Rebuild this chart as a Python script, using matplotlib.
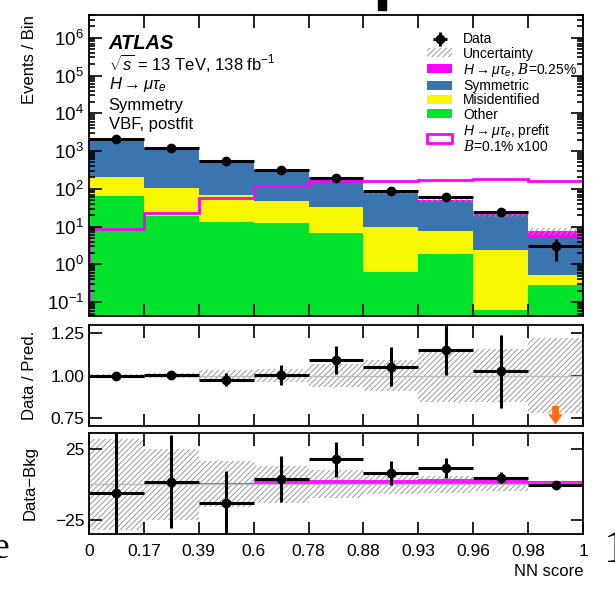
import numpy as np
import matplotlib
matplotlib.use('Agg')
import matplotlib.pyplot as plt
from matplotlib.patches import Patch, Rectangle
from matplotlib.ticker import LogLocator, NullFormatter, FixedLocator

plt.rcParams['font.family'] = ['Liberation Sans', 'DejaVu Sans']
plt.rcParams['mathtext.fontset'] = 'custom'
plt.rcParams['mathtext.rm'] = 'Liberation Sans'
plt.rcParams['mathtext.it'] = 'Liberation Sans:italic'
plt.rcParams['mathtext.bf'] = 'Liberation Sans:bold'
plt.rcParams['mathtext.cal'] = 'DejaVu Serif:italic'
plt.rcParams['hatch.linewidth'] = 0.7

# bin edge labels (NN score), bins drawn with equal width
edge_labels = ['0', '0.17', '0.39', '0.6', '0.78', '0.88', '0.93', '0.96', '0.98', '1']

# stacked backgrounds + signal (events / bin)
other = [63, 19, 13.5, 12.5, 6.6, 0.64, 1.9, 0.062, 0.28]
misid = [141, 88, 54, 36, 26, 9.1, 5.7, 2.3, 0.24]
symm = [1900, 1120, 505, 256, 142, 69, 41, 16.6, 4.8]
signal = [0.3, 0.5, 0.8, 2.3, 3.0, 3.0, 3.5, 3.0, 2.4]
prefit = [8.5, 23, 57, 118, 159, 159, 174, 185, 163]

data = [2100, 1230, 560, 310, 194, 86, 60, 25, 3]
data_err = [46, 35, 24, 18, 14, 9.3, 7.7, 5, 1.8]

# relative uncertainty of the prediction
unc_rel = [0.01, 0.015, 0.035, 0.04, 0.07, 0.09, 0.16, 0.16, 0.22]

# Data / Pred.
ratio = [1.00, 1.004, 0.974, 1.004, 1.093, 1.053, 1.152, 1.024, 0.39]
ratio_err = [0.008, 0.012, 0.038, 0.06, 0.084, 0.117, 0.15, 0.215, 0.2]

# Data - Bkg
resid = [-6.3, 1.9, -12.9, 3.5, 17.6, 7.7, 11.3, 4.7, -0.5]
resid_err = [42, 33, 22, 16, 12.3, 8.5, 7, 4.1, 1.5]
resid_unc = [32, 25, 16, 13, 10, 7, 6, 4.5, 2]

c_other = '#00e22b'
c_misid = '#f7f700'
c_symm = '#3b75af'
c_sig = '#ff00ff'
c_hatch = '#9a9a9a'

nb = len(other)
edges = np.arange(nb + 1)
cent = edges[:-1] + 0.5

other = np.array(other)
misid = np.array(misid)
symm = np.array(symm)
signal = np.array(signal)
total = other + misid + symm + signal
unc_rel = np.array(unc_rel)

W, H = 615, 589
fig = plt.figure(figsize=(W / 100, H / 100), dpi=100)


def box(l, t, r, b):
    return [l / W, 1 - b / H, (r - l) / W, (b - t) / H]


ax = fig.add_axes(box(89, 15, 583, 316))
axr = fig.add_axes(box(89, 325, 583, 426))
axd = fig.add_axes(box(89, 433, 583, 534))

# ---- top panel
ax.set_yscale('log')
base = np.full(nb, 1e-4)
for vals, col in [(other, c_other), (misid, c_misid), (symm, c_symm), (signal, c_sig)]:
    ax.stairs(base + vals, edges, baseline=base, fill=True, color=col, lw=0)
    base = base + vals
ax.stairs(total * (1 + unc_rel), edges, baseline=total * (1 - unc_rel), fill=True,
          facecolor='none', edgecolor=c_hatch, hatch='//////', lw=0)
ax.stairs(prefit, edges, color=c_sig, lw=2)
eb = ax.errorbar(cent, data, yerr=data_err, xerr=0.5, fmt='o', color='k', ms=6,
                 lw=2.2, capsize=0)
ax.set_xlim(0, nb)
ax.set_ylim(0.043, 4e6)
ax.yaxis.set_major_locator(LogLocator(base=10, numticks=20))
ax.yaxis.set_minor_locator(LogLocator(base=10, subs=np.arange(2, 10), numticks=20))
ax.yaxis.set_minor_formatter(NullFormatter())
ax.set_ylabel('Events / Bin', loc='top', fontsize=12)

ax.text(0.04, 0.905, 'ATLAS', transform=ax.transAxes, fontsize=14.5,
        fontweight='bold', style='italic', va='center')
ax.text(0.04, 0.84, r'$\sqrt{s}$ = 13 TeV, 138 fb$^{-1}$', transform=ax.transAxes,
        fontsize=12, va='center')
ax.text(0.04, 0.768, r'$H \rightarrow \mu\tau_e$', transform=ax.transAxes,
        fontsize=12, va='center')
ax.text(0.04, 0.70, 'Symmetry', transform=ax.transAxes, fontsize=12, va='center')
ax.text(0.04, 0.635, 'VBF, postfit', transform=ax.transAxes, fontsize=12, va='center')

handles = [
    eb,
    Patch(facecolor='white', edgecolor=c_hatch, hatch='//////', lw=0),
    Patch(facecolor=c_sig),
    Patch(facecolor=c_symm),
    Patch(facecolor=c_misid),
    Patch(facecolor=c_other),
    Patch(facecolor='white', edgecolor=c_sig, lw=2),
]
labels = ['Data', 'Uncertainty', r'$H \rightarrow \mu\tau_e$, $\mathcal{B}$=0.25%',
          'Symmetric', 'Misidentified', 'Other',
          '$H \\rightarrow \\mu\\tau_e$, prefit\n$\\mathcal{B}$=0.1% x100']
leg = ax.legend(handles, labels, loc='upper left', bbox_to_anchor=(0.665, 0.975),
                frameon=False, fontsize=10, handlelength=1.8, handleheight=0.6,
                labelspacing=0.02, handletextpad=0.8, borderpad=0.2)
for t in leg.get_texts():
    t.set_linespacing(0.95)

# ---- ratio panel
axr.stairs(1 + unc_rel, edges, baseline=1 - unc_rel, fill=True,
           facecolor='none', edgecolor=c_hatch, hatch='//////', lw=0)
axr.axhline(1, color='#bbbbbb', lw=1)
ratio = np.array(ratio)
ratio_err = np.array(ratio_err)
rlo, rhi = 0.7, 1.3
inr = (ratio > rlo) & (ratio < rhi)
axr.errorbar(cent[inr], ratio[inr], yerr=ratio_err[inr], xerr=0.5, fmt='o',
             color='k', ms=6, lw=2.2, capsize=0)
for xc in cent[~inr]:
    axr.annotate('', xy=(xc, 0.71), xytext=(xc, 0.82),
                 arrowprops=dict(arrowstyle='simple,head_length=0.45,head_width=0.65,tail_width=0.3',
                                 color='#ff6a13', lw=0, mutation_scale=16,
                                 shrinkA=0, shrinkB=0))
axr.set_xlim(0, nb)
axr.set_ylim(rlo, rhi)
axr.set_yticks([0.75, 1.0, 1.25])
axr.set_yticklabels(['0.75', '1.00', '1.25'])
axr.set_ylabel('Data / Pred.', fontsize=12)

# ---- data - bkg panel
resid_unc = np.array(resid_unc)
axd.stairs(resid_unc, edges, baseline=-resid_unc, fill=True,
           facecolor='none', edgecolor=c_hatch, hatch='//////', lw=0)
axd.axhline(0, color='#bbbbbb', lw=1)
axd.stairs(signal, edges, baseline=0, fill=True, color=c_sig, lw=0, alpha=0.9)
axd.errorbar(cent, resid, yerr=resid_err, xerr=0.5, fmt='o', color='k', ms=6,
             lw=2.2, capsize=0)
axd.set_xlim(0, nb)
axd.set_ylim(-35, 36)
axd.set_yticks([-25, 25])
axd.set_yticklabels(['\u221225', '25'])
axd.set_ylabel('Data\u2212Bkg', fontsize=12)
axd.set_xlabel('NN score', loc='right', fontsize=12)

for a in (ax, axr, axd):
    a.xaxis.set_major_locator(FixedLocator(edges))
    a.tick_params(which='both', direction='in', top=True, right=True,
                  labelsize=12.5, width=1.2)
    a.tick_params(which='major', length=9)
    a.tick_params(which='minor', length=4.5)
    for s in a.spines.values():
        s.set_linewidth(1.3)
ax.tick_params(axis='y', labelsize=13.5)
ax.yaxis.set_label_coords(-0.105, 1.0)
axr.yaxis.set_label_coords(-0.105, 0.5)
axd.yaxis.set_label_coords(-0.105, 0.5)
ax.set_xticklabels([])
axr.set_xticklabels([])
axd.set_xticklabels(edge_labels)
axd.tick_params(axis='x', pad=7)

# page fragments around the cropped figure
fig.text(-0.012, 0.052, 'e', fontsize=27, family='Liberation Serif')
fig.text(0.982, 0.045, '1', fontsize=34, family='Liberation Serif')
fig.add_artist(Rectangle((378 / W, 1 - 10 / H), 8 / W, 10 / H, color='k',
                         transform=fig.transFigure))

fig.savefig('out.png', dpi=100)
